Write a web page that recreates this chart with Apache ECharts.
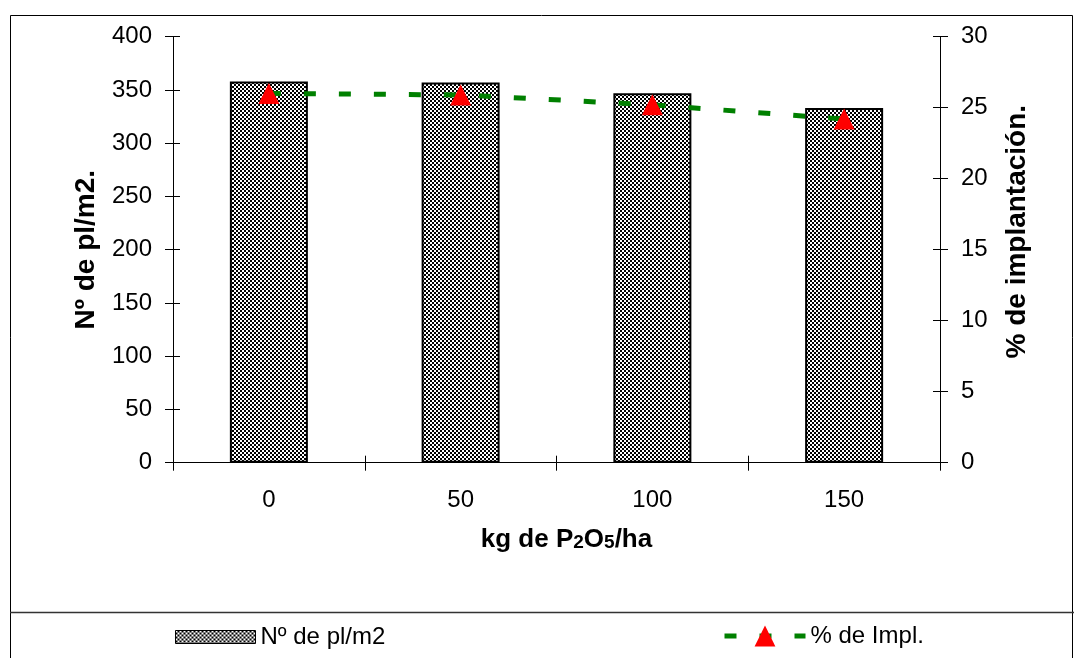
<!DOCTYPE html>
<html>
<head>
<meta charset="utf-8">
<script src="https://cdn.jsdelivr.net/npm/echarts@6/dist/echarts.min.js"></script>
<style>
  html, body { margin: 0; padding: 0; background: #fff; }
  #chart { width: 1074px; height: 658px; }
</style>
</head>
<body>
<div id="chart"></div>
<script>
// Doses of phosphorus (kg P2O5/ha)
const categories = ['0', '50', '100', '150'];
// Plants per square metre
const plantas = [358, 357, 347, 333];
// Establishment percentage
const implantacion = [26.0, 25.9, 25.2, 24.2];

const FONT = '"Liberation Sans", Arial, sans-serif';

// Small black/white checkerboard used as bar fill
function checkerPattern() {
  const c = document.createElement('canvas');
  c.width = 4; c.height = 4;
  const g = c.getContext('2d');
  g.fillStyle = '#000'; g.fillRect(0, 0, 4, 4);
  g.fillStyle = '#fff';
  g.fillRect(0, 0, 2, 2);
  g.fillRect(2, 2, 2, 2);
  return c;
}
const pattern = { image: checkerPattern(), repeat: 'repeat' };

const chart = echarts.init(document.getElementById('chart'));

const labelStyle = { color: '#000', fontSize: 24, fontFamily: FONT };
const lineBlack = { lineStyle: { color: '#000', width: 1 } };
const titleStyle = { color: '#000', fontSize: 28, fontWeight: 'bold', fontFamily: FONT };

const leftY = { type: 'value', min: 0, max: 400, interval: 50 };
const rightY = { type: 'value', min: 0, max: 30, interval: 5 };

const option = {
  animation: false,
  backgroundColor: '#fff',
  grid: { left: 173, right: 134, top: 36.7, bottom: 195.3, containLabel: false },
  xAxis: [
    {
      type: 'category', data: categories, position: 'bottom',
      name: 'kg de P{s|2}O{s|5}/ha', nameLocation: 'middle', nameGap: 64,
      nameTextStyle: {
        color: '#000', fontSize: 26, fontWeight: 'bold', fontFamily: FONT,
        padding: [0, 0, 0, 20],
        rich: { s: { fontSize: 19, fontWeight: 'bold', fontFamily: FONT, color: '#000', verticalAlign: 'bottom' } }
      },
      axisLine: lineBlack,
      axisTick: { show: true, length: 8, alignWithLabel: false, ...lineBlack },
      axisLabel: { ...labelStyle, margin: 26 },
      splitLine: { show: false }
    },
    {
      type: 'category', data: categories, position: 'bottom',
      axisLine: { show: false },
      axisTick: { show: true, inside: true, length: 7, ...lineBlack },
      axisLabel: { show: false },
      splitLine: { show: false }
    }
  ],
  yAxis: [
    {
      ...leftY, position: 'left',
      name: 'Nº de pl/m2.', nameLocation: 'middle', nameGap: 73, nameRotate: 90,
      nameTextStyle: titleStyle,
      axisLine: { show: true, ...lineBlack },
      axisTick: { show: true, length: 8, ...lineBlack },
      axisLabel: { ...labelStyle, margin: 21 },
      splitLine: { show: false }
    },
    {
      ...rightY, position: 'right',
      name: '% de implantación.', nameLocation: 'middle', nameGap: 63, nameRotate: 90,
      nameTextStyle: { ...titleStyle, padding: [0, 0, 0, 36] },
      axisLine: { show: true, ...lineBlack },
      axisTick: { show: true, length: 8, ...lineBlack },
      axisLabel: { ...labelStyle, margin: 21 },
      splitLine: { show: false }
    },
    {
      ...leftY, position: 'left',
      axisLine: { show: false },
      axisTick: { show: true, inside: true, length: 7, ...lineBlack },
      axisLabel: { show: false },
      splitLine: { show: false }
    },
    {
      ...rightY, position: 'right',
      axisLine: { show: false },
      axisTick: { show: true, inside: true, length: 7, ...lineBlack },
      axisLabel: { show: false },
      splitLine: { show: false }
    }
  ],
  legend: [
    {
      data: [{ name: 'Nº de pl/m2', icon: 'rect' }], left: 175, top: 625, padding: 0,
      itemWidth: 80, itemHeight: 13,
      itemStyle: { borderColor: '#000', borderWidth: 1 },
      textStyle: { color: '#000', fontSize: 24, fontFamily: FONT }
    },
    {
      data: ['% de Impl.'], left: 722, top: 624, padding: 0,
      itemWidth: 81, itemHeight: 26,
      lineStyle: { width: 5 },
      textStyle: { color: '#000', fontSize: 24, fontFamily: FONT }
    }
  ],
  series: [
    {
      name: 'Nº de pl/m2', type: 'bar', xAxisIndex: 0, yAxisIndex: 0,
      data: plantas, barWidth: 78,
      itemStyle: { color: pattern, borderColor: '#000', borderWidth: 2 }
    },
    {
      name: '% de Impl.', type: 'line', xAxisIndex: 0, yAxisIndex: 1,
      data: implantacion,
      symbol: 'triangle', symbolSize: [21, 21],
      itemStyle: { color: '#ff0000', borderWidth: 0 },
      lineStyle: { color: '#008000', width: 5, type: [12, 23], cap: 'butt' },
      z: 5
    }
  ],
  graphic: [
    {
      type: 'rect', silent: true, z: -1,
      shape: { x: 10.5, y: 15.5, width: 1062, height: 700 },
      style: { fill: 'none', stroke: '#000', lineWidth: 1 }
    },
    {
      type: 'line', silent: true,
      shape: { x1: 10, y1: 612.5, x2: 1074, y2: 612.5 },
      style: { stroke: '#333', lineWidth: 1.5 }
    }
  ]
};

chart.setOption(option);
</script>
</body>
</html>
